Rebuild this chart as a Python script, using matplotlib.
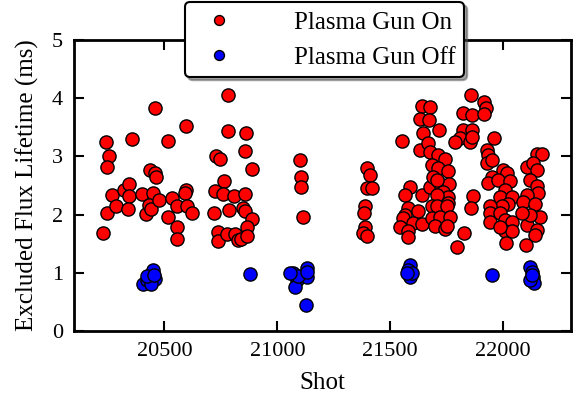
import matplotlib
matplotlib.use('Agg')
import matplotlib.pyplot as plt

# plasma gun on: shot number and excluded flux lifetime (ms)
shot_on = [20230, 20242, 20255, 20246, 20245, 20270, 20286, 20323, 20345, 20345,
           20338, 20358, 20402, 20419, 20436, 20459, 20462, 20459, 20451, 20432,
           20440, 20478, 20517, 20515, 20535, 20557, 20555, 20555, 20594, 20594,
           20591, 20600, 20624,
           20721, 20729, 20746, 20780, 20780, 20764, 20726, 20761, 20788, 20808,
           20739, 20739, 20776, 20813, 20827, 20860, 20856, 20887, 20857, 20850,
           20857, 20887, 20865, 20839, 20865,
           21100, 21104, 21104, 21115,
           21396, 21410, 21398, 21418, 21388, 21385, 21388, 21378, 21396,
           21551, 21639, 21676, 21632, 21672, 21646, 21716, 21632, 21668, 21676,
           21713, 21742, 21683, 21713, 21757, 21587, 21565, 21639, 21676, 21720,
           21761, 21691, 21706, 21735, 21757, 21757, 21706, 21580, 21565, 21624,
           21683, 21706, 21753, 21558, 21602, 21639, 21683, 21720, 21764, 21543,
           21580, 21580, 21698, 21742, 21750, 21826, 21797, 21865, 21858,
           21856, 21821, 21861, 21916, 21924, 21916, 21823, 21861, 21809, 21853,
           21787, 21863, 21959, 21927, 21934, 21927, 21952, 21949, 21934, 22001,
           22016, 21978, 22030, 22008, 21986, 22038, 22023, 21993, 21942, 21942,
           21942, 21986, 22008, 22038, 22008, 22038, 22012, 21986,
           22104, 22148, 22170, 22133, 22148, 22119, 22148, 22155, 22104, 22089,
           22141, 22163, 22104, 22148, 22141, 22101, 22119, 22082]
life_on = [1.69, 3.24, 3.00, 2.81, 2.03, 2.34, 2.14, 2.42, 2.53, 2.32,
           2.09, 3.30, 2.35, 2.01, 2.77, 2.71, 2.65, 3.84, 2.37, 2.16,
           2.10, 2.25, 1.96, 3.26, 2.28, 1.78, 1.58, 2.15, 3.53, 2.42,
           2.37, 2.15, 2.03,
           2.03, 3.01, 2.96, 4.06, 3.44, 2.58, 2.41, 2.35, 2.08, 2.32,
           1.70, 1.55, 1.66, 1.66, 1.56, 3.40, 3.09, 2.79, 2.35, 2.12,
           2.07, 1.92, 1.79, 1.58, 1.63,
           2.94, 2.65, 2.48, 1.96,
           2.80, 2.68, 2.45, 2.45, 2.14, 2.03, 1.79, 1.69, 1.63,
           3.26, 3.87, 3.85, 3.65, 3.63, 3.40, 3.45, 3.11, 3.23, 3.08,
           3.02, 2.96, 2.85, 2.80, 2.75, 2.47, 2.34, 2.34, 2.48, 2.52,
           2.52, 2.65, 2.59, 2.39, 2.31, 2.20, 2.34, 2.11, 1.99, 2.07,
           2.14, 2.14, 2.14, 1.94, 1.85, 1.84, 1.95, 1.96, 1.96, 1.79,
           1.71, 1.62, 1.80, 1.76, 1.80, 1.69, 1.45, 2.32, 2.12,
           4.05, 3.74, 3.71, 3.94, 3.83, 3.73, 3.45, 3.45, 3.31, 3.25,
           3.25, 3.34, 3.31, 3.11, 3.02, 2.88, 2.94, 2.65, 2.54, 2.77,
           2.71, 2.59, 2.57, 2.42, 2.31, 2.31, 2.19, 2.14, 2.14, 2.02,
           1.88, 2.02, 1.91, 1.88, 1.71, 1.71, 1.51, 1.79,
           2.82, 3.05, 3.05, 2.88, 2.77, 2.59, 2.49, 2.37, 2.34, 2.22,
           2.19, 1.96, 1.82, 1.74, 1.65, 1.47, 1.99, 2.02]

# plasma gun off
shot_off = [20407, 20423, 20436, 20450, 20459, 20441, 20423, 20455,
            20879,
            21068, 21086, 21078, 21130, 21133, 21093, 21126, 21056, 21131,
            21587, 21580, 21587, 21595, 21572,
            21950,
            22119, 22126, 22133, 22136, 22119, 22126]
life_off = [0.81, 0.88, 0.96, 1.05, 0.89, 0.81, 0.95, 0.96,
            0.98,
            1.00, 0.88, 0.76, 1.09, 0.92, 0.95, 0.45, 1.00, 1.01,
            1.13, 1.05, 0.93, 0.99, 0.99,
            0.97,
            1.10, 1.02, 0.93, 0.82, 0.88, 0.97]

plt.rcParams['font.family'] = ['Liberation Serif', 'DejaVu Serif']

fig = plt.figure(figsize=(5.8, 3.99), dpi=100)
ax = fig.add_axes([0.1276, 0.1704, 0.8569, 0.7293])

ax.plot(shot_on, life_on, 'o', color='red', mec='black', mew=1, ms=9.5,
        label='Plasma Gun On')
ax.plot(shot_off, life_off, 'o', color='blue', mec='black', mew=1, ms=9.5,
        label='Plasma Gun Off')

ax.set_xlim(20100, 22300)
ax.set_ylim(0, 5)
ax.set_xticks([20500, 21000, 21500, 22000])
ax.set_yticks([0, 1, 2, 3, 4, 5])
ax.tick_params(direction='in', length=7, width=1.5, top=True, right=True,
               pad=8, labelsize=16)
for s in ax.spines.values():
    s.set_linewidth(2)

ax.set_xlabel('Shot', fontsize=18, labelpad=8)
ax.set_ylabel('Excluded Flux Lifetime (ms)', fontsize=18, labelpad=9)

leg = ax.legend(loc='center', bbox_to_anchor=(0.560, 0.90),
                bbox_transform=fig.transFigure, numpoints=1, fancybox=True,
                shadow=True, markerscale=0.75, handletextpad=2.0,
                borderpad=0.35, borderaxespad=0, labelspacing=0.5,
                prop={'size': 18})
leg.get_frame().set_edgecolor('black')
leg.get_frame().set_linewidth(1.5)

fig.savefig('out.png', dpi=100)
